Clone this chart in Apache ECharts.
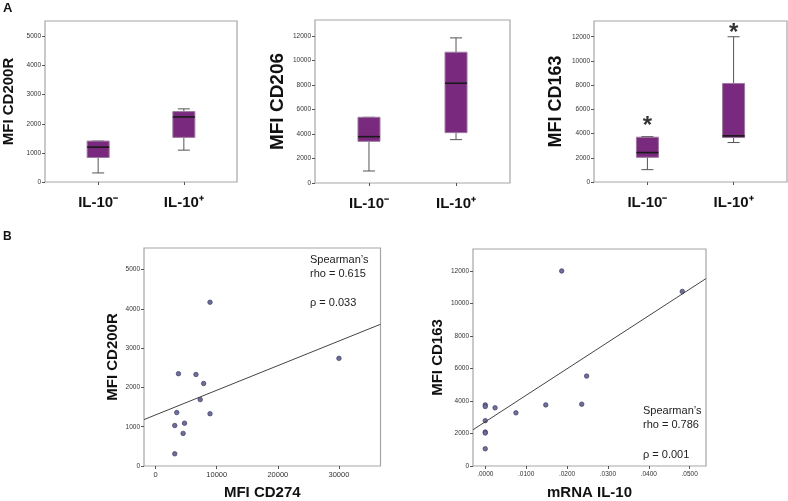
<!DOCTYPE html>
<html>
<head>
<meta charset="utf-8">
<script src="https://cdn.jsdelivr.net/npm/echarts@6/dist/echarts.min.js"></script>
<style>
  html, body { margin: 0; padding: 0; background: #fff; }
  #chart { width: 788px; height: 501px; }
</style>
</head>
<body>
<div id="chart"></div>
<script>
// panel A: box plots, [min, q1, median, q3, max]
const groups = ['IL-10⁻', 'IL-10⁺']
const cd200rBox = [[311, 841, 1198, 1405, 1405], [1094, 1532, 2235, 2419, 2512]]
const cd206Box = [[980, 3400, 3780, 5360, 5360], [3540, 4110, 8140, 10670, 11840]]
const cd163Box = [[1020, 2040, 2430, 3700, 3750], [3260, 3670, 3810, 8140, 12000]]
const cd163Stars = [4600, 12250]

// panel B: scatter
const cd274 = [8900, 3740, 6600, 7860, 7300, 3460, 8900, 4730, 3130, 4500, 3130, 30000]
const cd200r = [4170, 2350, 2330, 2100, 1690, 1360, 1330, 1090, 1030, 830, 310, 2740]
const mrnaIl10 = [0, 0, 0, 0, 0, 0, 0.0024, 0.0075, 0.0148, 0.0187, 0.0236, 0.0248, 0.0482]
const cd163 = [3760, 3660, 2790, 2090, 2030, 1060, 3580, 3270, 3760, 12000, 3800, 5530, 10740]

// fit lines (end points)
const fit1X = [-1900, 36800]
const fit1Y = [1182, 3608]
const fit2X = [-0.003, 0.054]
const fit2Y = [2230, 11530]

// ticks
const ticks5k = [0, 1000, 2000, 3000, 4000, 5000]
const ticks12k = [0, 2000, 4000, 6000, 8000, 10000, 12000]
const cd274Ticks = [0, 10000, 20000, 30000]
const mrnaTicks = [0, 0.01, 0.02, 0.03, 0.04, 0.05]

const FONT = '"Liberation Sans", Arial, sans-serif'
const FRAME = '#a6a6a6'
const TICK = '#555'

function gridBox (left, top, width, height) {
  return { left: left, top: top, width: width, height: height, show: true, borderColor: FRAME, borderWidth: 1.2, backgroundColor: '#fff' }
}

function yAx (gi, max, ticks, name, nameSize, nameGap) {
  return {
    type: 'value', gridIndex: gi, min: 0, max: max,
    name: name, nameLocation: 'middle', nameRotate: 90, nameGap: nameGap,
    nameTextStyle: { fontFamily: FONT, fontWeight: 'bold', fontSize: nameSize, color: '#111' },
    splitLine: { show: false },
    axisLine: { show: false, onZero: false },
    axisTick: { show: true, length: 3, customValues: ticks, lineStyle: { color: TICK } },
    axisLabel: { customValues: ticks, formatter: v => String(v), fontSize: 6.5, color: '#333', margin: 4, fontFamily: FONT }
  }
}

function xCat (gi) {
  return {
    type: 'value', gridIndex: gi, min: -0.62, max: 1.62,
    splitLine: { show: false },
    axisLine: { show: false, onZero: false },
    axisTick: { show: true, length: 3, customValues: [0, 1], lineStyle: { color: TICK } },
    axisLabel: {
      customValues: [0, 1], margin: 13,
      formatter: function (v) { return groups[Math.round(v)] },
      fontFamily: FONT, fontWeight: 'bold', fontSize: 15, color: '#111'
    }
  }
}

function xVal (gi, min, max, ticks, fmt, size, name) {
  return {
    type: 'value', gridIndex: gi, min: min, max: max,
    name: name, nameLocation: 'middle', nameGap: 19,
    nameTextStyle: { fontFamily: FONT, fontWeight: 'bold', fontSize: 15, color: '#111' },
    splitLine: { show: false },
    axisLine: { show: false, onZero: false },
    axisTick: { show: true, length: 3, customValues: ticks, lineStyle: { color: TICK } },
    axisLabel: { customValues: ticks, formatter: fmt, fontSize: size, color: '#333', margin: 5, fontFamily: FONT }
  }
}

function renderBox (params, api) {
  const x = api.value(0)
  const p = [1, 2, 3, 4, 5].map(i => api.coord([x, api.value(i)]))
  const cx = p[0][0]
  const hw = 11
  const cw = 6
  const ws = { stroke: '#555', lineWidth: 1 }
  return {
    type: 'group',
    children: [
      { type: 'line', shape: { x1: cx, y1: p[0][1], x2: cx, y2: p[1][1] }, style: ws },
      { type: 'line', shape: { x1: cx, y1: p[3][1], x2: cx, y2: p[4][1] }, style: ws },
      { type: 'line', shape: { x1: cx - cw, y1: p[0][1], x2: cx + cw, y2: p[0][1] }, style: ws },
      { type: 'line', shape: { x1: cx - cw, y1: p[4][1], x2: cx + cw, y2: p[4][1] }, style: ws },
      { type: 'rect', shape: { x: cx - hw, y: p[3][1], width: hw * 2, height: p[1][1] - p[3][1] },
        style: { fill: '#7a2a7e', stroke: '#9c7a9e', lineWidth: 1 } },
      { type: 'line', shape: { x1: cx - hw, y1: p[2][1], x2: cx + hw, y2: p[2][1] }, style: { stroke: '#1a1a1a', lineWidth: 1.6 } }
    ]
  }
}

function boxSeries (gi, boxes) {
  return {
    type: 'custom', xAxisIndex: gi, yAxisIndex: gi,
    renderItem: renderBox,
    encode: { x: 0, y: [1, 2, 3, 4, 5] },
    data: boxes.map((b, i) => [i].concat(b)),
    silent: true
  }
}

function scatterSeries (gi, xs, ys) {
  return {
    type: 'scatter', xAxisIndex: gi, yAxisIndex: gi, symbolSize: 4.5,
    itemStyle: { color: '#6e6e9c', borderColor: '#3c3c5e', borderWidth: 0.7, opacity: 1 },
    data: xs.map((v, i) => [v, ys[i]])
  }
}

function fitSeries (gi, xs, ys) {
  return {
    type: 'line', xAxisIndex: gi, yAxisIndex: gi, symbol: 'none', silent: true,
    lineStyle: { color: '#444', width: 1 },
    data: xs.map((v, i) => [v, ys[i]])
  }
}

function noteText (x, y, str) {
  return { type: 'text', left: x, top: y, style: { text: str, font: '11px ' + FONT, fill: '#222' } }
}

const chart = echarts.init(document.getElementById('chart'))
chart.setOption({
  backgroundColor: '#fff',
  animation: false,
  grid: [
    gridBox(42, 21, 195, 161),
    gridBox(315, 20, 195, 163),
    gridBox(594, 21, 193, 161),
    gridBox(144, 248, 236.5, 219),
    gridBox(473, 249, 233, 219)
  ],
  xAxis: [
    xCat(0),
    xCat(1),
    xCat(2),
    xVal(3, -1900, 36800, cd274Ticks, v => String(v), 7.5, 'MFI CD274'),
    xVal(4, -0.003, 0.054, mrnaTicks, v => v.toFixed(4).replace(/^0/, ''), 6.5, 'mRNA IL-10')
  ],
  yAxis: [
    yAx(0, 5530, ticks5k, 'MFI CD200R', 15, 29),
    yAx(1, 13300, ticks12k, 'MFI CD206', 19, 28),
    yAx(2, 13300, ticks12k, 'MFI CD163', 18, 29),
    yAx(3, 5550, ticks5k, 'MFI CD200R', 15, 24),
    yAx(4, 13350, ticks12k, 'MFI CD163', 15, 28)
  ],
  series: [
    boxSeries(0, cd200rBox),
    boxSeries(1, cd206Box),
    boxSeries(2, cd163Box),
    {
      type: 'scatter', xAxisIndex: 2, yAxisIndex: 2, symbolSize: 1, silent: true,
      itemStyle: { color: 'rgba(0,0,0,0)' },
      label: { show: true, position: 'inside', formatter: '*', fontFamily: FONT, fontWeight: 'bold', fontSize: 24, color: '#000' },
      data: cd163Stars.map((v, i) => [i, v])
    },
    scatterSeries(3, cd274, cd200r),
    fitSeries(3, fit1X, fit1Y),
    scatterSeries(4, mrnaIl10, cd163),
    fitSeries(4, fit2X, fit2Y)
  ],
  graphic: [
    { type: 'text', left: 3, top: 2, style: { text: 'A', font: 'bold 13px ' + FONT, fill: '#111' } },
    { type: 'text', left: 3, top: 231, style: { text: 'B', font: 'bold 12px ' + FONT, fill: '#111' } },
    noteText(310, 254, 'Spearman’s'),
    noteText(310, 268, 'rho = 0.615'),
    noteText(310, 297, 'ρ = 0.033'),
    noteText(643, 405, 'Spearman’s'),
    noteText(643, 419, 'rho = 0.786'),
    noteText(643, 449, 'ρ = 0.001')
  ]
})
</script>
</body>
</html>
